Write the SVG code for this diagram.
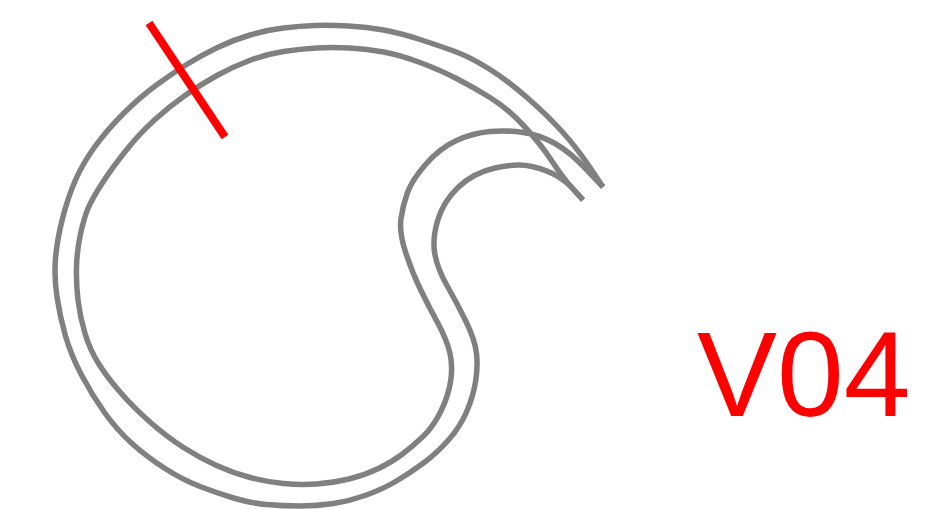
<svg xmlns="http://www.w3.org/2000/svg" width="942" height="509" viewBox="0 0 942 509">
<style>
.rail{fill:none;stroke:#808080;stroke-width:5.5;stroke-linejoin:round;stroke-linecap:butt}
.cut{stroke:#ff0000;stroke-width:8;stroke-linecap:butt}
.lbl{font-family:"Liberation Sans",Arial,sans-serif;font-size:120px;fill:#ff0000}
</style>
<rect width="942" height="509" fill="#ffffff"/>
<g id="track">
<path class="rail" d="M603,187 L590,167.5 Q577,148 562,131.5 Q547,115 527,97.5 Q507,80 488.5,68.5 Q470,57 455,51.5 Q440,46 420,39.5 Q400,33 383.5,30 Q367,27 348.5,26 Q330,25 315,25.5 Q300,26 283.5,28 Q267,30 250,35 Q233,40 217.5,47.5 Q202,55 187.5,64 Q173,73 156.5,85 Q140,97 123.5,113.5 Q107,130 95,146.5 Q83,163 75.5,180 Q68,197 62.5,218.5 Q57,240 55.5,258.5 Q54,277 57,297 Q60,317 65.5,336 Q71,355 81.5,375 Q92,395 104.5,412.5 Q117,430 132,443.5 Q147,457 165,468.5 Q183,480 200,486.5 Q217,493 233.5,498 Q250,503 266.5,504.5 Q283,506 300,506 Q317,506 333.5,503.5 Q350,501 366.5,495 Q383,489 396.5,481 Q410,473 423.5,463 Q437,453 448.5,440 Q460,427 466.5,412 Q473,397 475.5,382 Q478,367 476.5,353.5 Q475,340 466,321.5 Q457,303 447.5,286.5 Q438,270 435,255 Q432,240 437.5,221 Q443,202 458,187.5 Q473,173 495,168 Q517,163 532,166.5 Q547,170 557,176 Q567,182 575,191 L583,200"/>
<path class="rail" d="M583,200 L573,189 Q563,178 551.5,160.5 Q540,143 523.5,125.5 Q507,108 490,97.5 Q473,87 456.5,78.5 Q440,70 420,62.5 Q400,55 383.5,52 Q367,49 350,48 Q333,47 316.5,48 Q300,49 283.5,51.5 Q267,54 249.5,60.5 Q232,67 216,76 Q200,85 185,95.5 Q170,106 155,119.5 Q140,133 126,150.5 Q112,168 102,183.5 Q92,199 88,208.5 Q84,218 80.5,234 Q77,250 76.5,266.5 Q76,283 78,300 Q80,317 85,333.5 Q90,350 98.5,363.5 Q107,377 120,392 Q133,407 150,422 Q167,437 183.5,447.5 Q200,458 216.5,465.5 Q233,473 250,477.5 Q267,482 283.5,483.5 Q300,485 316.5,484 Q333,483 349,479 Q365,475 378.5,468.5 Q392,462 402.5,454 Q413,446 423,436.5 Q433,427 440.5,412 Q448,397 450.5,382 Q453,367 450,353.5 Q447,340 437.5,322.5 Q428,305 420,288.5 Q412,272 405.5,252 Q399,232 401,218.5 Q403,205 407.5,192.5 Q412,180 426,164 Q440,148 456.5,140.5 Q473,133 490,131.5 Q507,130 523.5,132.5 Q540,135 555,143.5 Q570,152 586.5,169.5 L603,187"/>
</g>
<g id="cut-line">
<line class="cut" x1="149" y1="23" x2="225" y2="137"/>
</g>
<g id="label">
<text class="lbl" x="697" y="416">V04</text>
</g>
</svg>
